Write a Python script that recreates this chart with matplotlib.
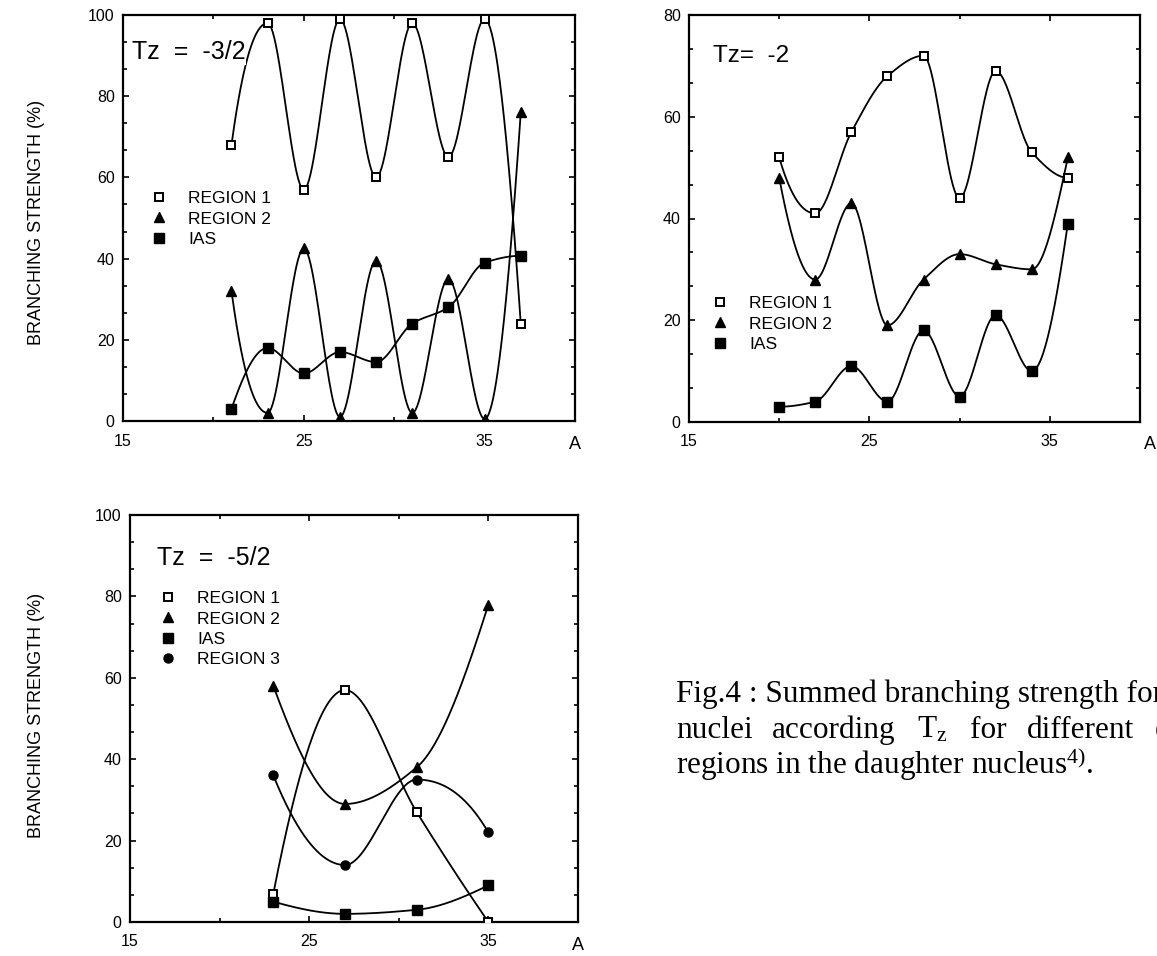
import numpy as np
import matplotlib
matplotlib.use('Agg')
import matplotlib.pyplot as plt
from matplotlib.lines import Line2D
from matplotlib.ticker import AutoMinorLocator

plt.rcParams['font.family'] = ['Liberation Sans', 'DejaVu Sans']
plt.rcParams['mathtext.fontset'] = 'custom'
plt.rcParams['mathtext.rm'] = 'Liberation Serif'
plt.rcParams['mathtext.it'] = 'Liberation Serif:italic'

# ---- data -------------------------------------------------------------
# Panel Tz = -3/2
A_a = [21, 23, 25, 27, 29, 31, 33, 35, 37]
reg1_a = [68, 98, 57, 99, 60, 98, 65, 99, 24]
reg2_a = [32, 2, 42.5, 1, 39.5, 2, 35, 0.5, 76]
ias_a = [3, 18, 11.7, 17, 14.5, 24, 28, 39, 40.7]

# Panel Tz = -2
A_b = [20, 22, 24, 26, 28, 30, 32, 34, 36]
reg1_b = [52, 41, 57, 68, 72, 44, 69, 53, 48]
reg2_b = [48, 28, 43, 19, 28, 33, 31, 30, 52]
ias_b = [3, 4, 11, 4, 18, 5, 21, 10, 39]

# Panel Tz = -5/2
A_c = [23, 27, 31, 35]
reg1_c = [7, 57, 27, 0]
reg2_c = [58, 29, 38, 78]
ias_c = [5, 2, 3, 9]
reg3_c = [36, 14, 35, 22]

xtick_labels = ['15', '25', '35']
W, H = 1157, 956


def pchip(x, y, n=400):
    """Monotone piecewise-cubic (Fritsch-Carlson) smooth curve through the points."""
    x = np.asarray(x, float)
    y = np.asarray(y, float)
    N = len(x)
    h = np.diff(x)
    d = np.diff(y) / h
    m = np.zeros(N)
    for k in range(1, N - 1):
        if d[k - 1] * d[k] <= 0:
            m[k] = 0.0
        else:
            w1 = 2 * h[k] + h[k - 1]
            w2 = h[k] + 2 * h[k - 1]
            m[k] = (w1 + w2) / (w1 / d[k - 1] + w2 / d[k])

    def end(h0, h1, d0, d1):
        s = ((2 * h0 + h1) * d0 - h0 * d1) / (h0 + h1)
        if np.sign(s) != np.sign(d0):
            s = 0.0
        elif np.sign(d0) != np.sign(d1) and abs(s) > abs(3 * d0):
            s = 3 * d0
        return s

    m[0] = end(h[0], h[1], d[0], d[1])
    m[-1] = end(h[-1], h[-2], d[-1], d[-2])
    xs = np.linspace(x[0], x[-1], n)
    idx = np.clip(np.searchsorted(x, xs) - 1, 0, N - 2)
    hh = h[idx]
    t = (xs - x[idx]) / hh
    h00 = 2 * t ** 3 - 3 * t ** 2 + 1
    h10 = t ** 3 - 2 * t ** 2 + t
    h01 = -2 * t ** 3 + 3 * t ** 2
    h11 = t ** 3 - t ** 2
    ys = h00 * y[idx] + h10 * hh * m[idx] + h01 * y[idx + 1] + h11 * hh * m[idx + 1]
    return xs, ys


STY = {
    'REGION 1': dict(marker='s', mfc='white', mec='black', ms=6, mew=1.4),
    'REGION 2': dict(marker='^', mfc='black', mec='black', ms=7, mew=1.0),
    'IAS': dict(marker='s', mfc='black', mec='black', ms=6.5, mew=1.0),
    'REGION 3': dict(marker='o', mfc='black', mec='black', ms=6.5, mew=1.0),
}


def draw(ax, x, y, name):
    xs, ys = pchip(x, y)
    ax.plot(xs, ys, color='black', lw=1.3, zorder=2)
    ax.plot(x, y, ls='none', zorder=3, **STY[name])


def px_axes(l, t, r, b):
    return fig.add_axes([l / W, 1 - b / H, (r - l) / W, (b - t) / H])


def style(ax, ymax):
    ax.set_xlim(15, 40)
    ax.set_ylim(0, ymax)
    ax.set_xticks([15, 25, 35])
    ax.set_xticklabels(xtick_labels)
    ax.xaxis.set_minor_locator(AutoMinorLocator(2))
    ax.set_yticks(np.arange(0, ymax + 1, 20))
    ax.yaxis.set_minor_locator(AutoMinorLocator(3))
    ax.tick_params(which='both', direction='in', top=True, right=True,
                   labelsize=11.5, width=1.2, color='black')
    ax.tick_params(which='major', length=4.5)
    ax.tick_params(which='minor', length=3)
    ax.tick_params(axis='x', pad=9)
    ax.tick_params(axis='y', pad=6)
    for s in ax.spines.values():
        s.set_linewidth(1.6)


def legend(ax, names, x_px, y_px):
    handles = [Line2D([], [], ls='none', **STY[n]) for n in names]
    ax.legend(handles, names, loc='upper left',
              bbox_to_anchor=(x_px / W, 1 - y_px / H),
              bbox_transform=fig.transFigure, frameon=False, fontsize=12.5,
              handlelength=1.0, handletextpad=1.2, labelspacing=0.3,
              borderpad=0, borderaxespad=0)


fig = plt.figure(figsize=(W / 100, H / 100), dpi=100)

# ---- panel Tz = -3/2 ---------------------------------------------------
ax1 = px_axes(123, 15, 575, 421)
style(ax1, 100)
draw(ax1, A_a, reg1_a, 'REGION 1')
draw(ax1, A_a, reg2_a, 'REGION 2')
draw(ax1, A_a, ias_a, 'IAS')
legend(ax1, ['REGION 1', 'REGION 2', 'IAS'], 150, 191)
fig.text(132 / W, 1 - 52 / H, 'Tz  =  -3/2', fontsize=18, ha='left', va='center',
         bbox=dict(facecolor='white', edgecolor='none', pad=0.5), zorder=5)
fig.text(575 / W, 1 - 445 / H, 'A', fontsize=13, ha='center', va='center')
fig.text(37 / W, 1 - 222 / H, 'BRANCHING STRENGTH (%)', rotation=90,
         fontsize=13, ha='center', va='center')

# ---- panel Tz = -2 -----------------------------------------------------
ax2 = px_axes(689, 15, 1140, 422)
style(ax2, 80)
draw(ax2, A_b, reg1_b, 'REGION 1')
draw(ax2, A_b, reg2_b, 'REGION 2')
draw(ax2, A_b, ias_b, 'IAS')
legend(ax2, ['REGION 1', 'REGION 2', 'IAS'], 711, 296)
fig.text(713 / W, 1 - 56 / H, 'Tz=  -2', fontsize=17.5, ha='left', va='center')
fig.text(1150 / W, 1 - 445 / H, 'A', fontsize=13, ha='center', va='center')

# ---- panel Tz = -5/2 ---------------------------------------------------
ax3 = px_axes(130, 515, 578, 922)
style(ax3, 100)
draw(ax3, A_c, reg1_c, 'REGION 1')
draw(ax3, A_c, reg2_c, 'REGION 2')
draw(ax3, A_c, ias_c, 'IAS')
draw(ax3, A_c, reg3_c, 'REGION 3')
legend(ax3, ['REGION 1', 'REGION 2', 'IAS', 'REGION 3'], 159, 591)
fig.text(157 / W, 1 - 558 / H, 'Tz  =  -5/2', fontsize=18, ha='left', va='center')
fig.text(578 / W, 1 - 946 / H, 'A', fontsize=13, ha='center', va='center')
fig.text(37 / W, 1 - 715 / H, 'BRANCHING STRENGTH (%)', rotation=90,
         fontsize=13, ha='center', va='center')

# ---- caption -------------------------------------------------------------
cap = dict(fontsize=22.5, family=['Liberation Serif', 'DejaVu Serif'], va='baseline', ha='left')
fig.text(676 / W, 1 - 702 / H, 'Fig.4 : Summed branching strength for', **cap)
for word, xp in [('nuclei', 676), ('according', 772), (r'T$_{\mathrm{z}}$', 917),
                 ('for', 970), ('different', 1027), ('energy', 1155)]:
    fig.text(xp / W, 1 - 738 / H, word, **cap)
fig.text(676 / W, 1 - 774 / H, r'regions in the daughter nucleus$^{\mathrm{4)}}$.', **cap)

fig.savefig('out.png', dpi=100)
